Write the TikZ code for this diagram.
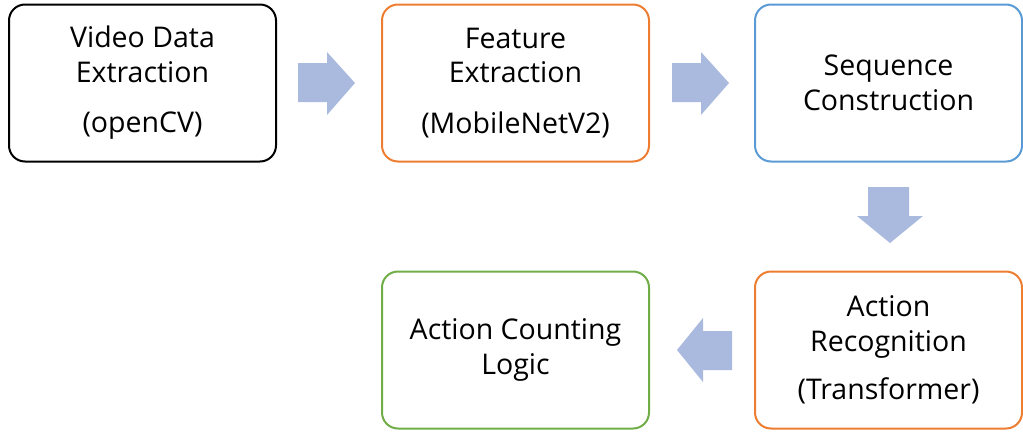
\documentclass[tikz,border=0pt]{standalone}
\usepackage{fontspec}
\setmainfont{Open Sans}
\definecolor{cblack}{HTML}{000000}
\definecolor{corange}{HTML}{ED7D31}
\definecolor{cblue}{HTML}{5B9BD5}
\definecolor{cgreen}{HTML}{70AD47}
\definecolor{carrow}{RGB}{170,185,222}
\tikzset{
  box/.style={draw, line width=2pt, rounded corners=16pt, minimum width=267pt, minimum height=157pt,
    align=center, font=\fontsize{28.5}{34.5}\selectfont, inner sep=0pt},
  blockarrow/.style={fill=carrow, draw=none}
}
\begin{document}
\begin{tikzpicture}[x=1pt,y=-1pt]
\useasboundingbox (0,0) rectangle (1023,434);
\node[box, draw=cblack] (b1) at (142.5,83) {Video Data\\Extraction\\[16pt](openCV)};
\node[box, draw=corange] (b2) at (515.5,83) {Feature\\Extraction\\[16pt](MobileNetV2)};
\node[box, draw=cblue] (b3) at (888.5,83) {Sequence\\Construction};
\node[box, draw=corange] (b4) at (888.5,350) {Action\\Recognition\\[14pt](Transformer)};
\node[box, draw=cgreen] (b5) at (515.5,350) {Action Counting\\Logic};
% right arrow 1
\fill[blockarrow] (298,63) -- (327,63) -- (327,52) -- (355,83) -- (327,115) -- (327,102) -- (298,102) -- cycle;
% right arrow 2
\fill[blockarrow] (672,63) -- (701,63) -- (701,52) -- (729,83) -- (701,115) -- (701,102) -- (672,102) -- cycle;
% down arrow
\fill[blockarrow] (868,187) -- (909,187) -- (909,216) -- (923,216) -- (890,243) -- (857,216) -- (868,216) -- cycle;
% left arrow
\fill[blockarrow] (732,331) -- (703,331) -- (703,318) -- (677,350) -- (703,382) -- (703,370) -- (732,370) -- cycle;
\end{tikzpicture}
\end{document}
